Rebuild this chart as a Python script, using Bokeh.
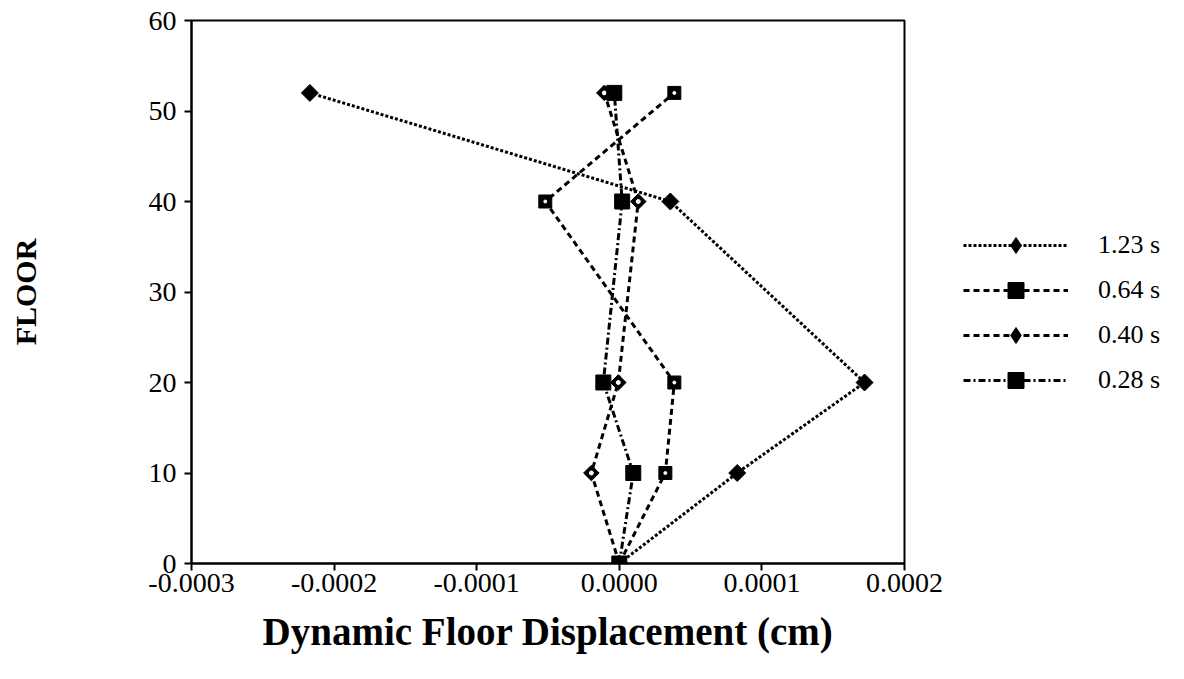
import math
from bokeh.plotting import figure
from bokeh.models import FixedTicker, NumeralTickFormatter, Legend, LegendItem, Range1d
from bokeh.embed import file_html
from bokeh.resources import INLINE

floors = [0, 10, 20, 40, 52]
s123 = [0.0, 0.0000827, 0.000172, 0.0000358, -0.000217]
s064 = [0.0, 0.0000323, 0.0000386, -0.0000519, 0.0000386]
s040 = [0.0, -0.0000196, -0.0000007, 0.0000133, -0.0000105]
s028 = [0.0, 0.0000098, -0.0000112, 0.000002, -0.0000035]
labels = ["1.23 s", "0.64 s", "0.40 s", "0.28 s"]
x_ticks = [-0.0003, -0.0002, -0.0001, 0.0, 0.0001, 0.0002]
y_ticks = [0, 10, 20, 30, 40, 50, 60]

FONT = "Liberation Serif"
ROT = math.pi / 4

p = figure(frame_width=713, frame_height=543, output_backend="svg", toolbar_location=None,
           x_range=Range1d(-0.0003, 0.0002), y_range=Range1d(0, 60),
           min_border_left=191, min_border_top=20, min_border_bottom=108, min_border_right=264)
p.grid.visible = False
p.outline_line_color = "black"
p.outline_line_width = 2
p.background_fill_color = "white"
p.border_fill_color = "white"

lw = 3
items = []
r = p.line(s123, floors, line_color="black", line_width=lw, line_dash="3 2")
lg = p.scatter(s123, floors, marker="diamond", size=12, color="black")
p.scatter(s123, floors, marker="square", angle=ROT, size=12, color="black")
items.append(LegendItem(label=labels[0], renderers=[r, lg]))

r = p.line(s064, floors, line_color="black", line_width=lw, line_dash="6 4")
m = p.scatter(s064, floors, marker="square", size=13, color="black")
p.scatter(s064, floors, marker="circle", size=3, color="white")
items.append(LegendItem(label=labels[1], renderers=[r, m]))

r = p.line(s040, floors, line_color="black", line_width=lw, line_dash="6 4")
lg = p.scatter(s040, floors, marker="diamond", size=11, color="black")
p.scatter(s040, floors, marker="square", angle=ROT, size=11, color="black")
p.scatter(s040, floors, marker="circle", size=4, color="white")
items.append(LegendItem(label=labels[2], renderers=[r, lg]))

r = p.line(s028, floors, line_color="black", line_width=lw, line_dash="7 3 2 3")
m = p.scatter(s028, floors, marker="square", size=15, color="black")
items.append(LegendItem(label=labels[3], renderers=[r, m]))

legend = Legend(items=items, location=(59, 163), glyph_width=105, glyph_height=40,
                label_text_font=FONT, label_text_font_size="26px", label_standoff=30,
                label_text_color="black",
                spacing=5, border_line_color=None, background_fill_alpha=0,
                margin=0, padding=0)
p.add_layout(legend, "right")

p.xaxis.ticker = FixedTicker(ticks=x_ticks)
p.xaxis.formatter = NumeralTickFormatter(format="0.0000")
p.yaxis.ticker = FixedTicker(ticks=y_ticks)
for ax in (p.xaxis, p.yaxis):
    ax.major_label_text_font = FONT
    ax.major_label_text_font_size = "28px"
    ax.major_label_text_color = "black"
    ax.axis_label_text_font = FONT
    ax.axis_label_text_font_style = "bold"
    ax.axis_label_text_color = "black"
    ax.axis_line_width = 2
    ax.major_tick_line_width = 2
    ax.major_tick_in = 0
    ax.major_tick_out = 7
    ax.minor_tick_line_color = None
p.xaxis.axis_label_text_font_size = "39px"
p.yaxis.axis_label_text_font_size = "30px"
p.xaxis.axis_label = "Dynamic Floor Displacement (cm)"
p.yaxis.axis_label = "FLOOR"
p.xaxis.axis_label_standoff = 15
p.yaxis.axis_label_standoff = 104
p.xaxis.major_label_standoff = 3
p.yaxis.major_label_standoff = 8

open("out.html", "w").write(file_html(p, INLINE))
